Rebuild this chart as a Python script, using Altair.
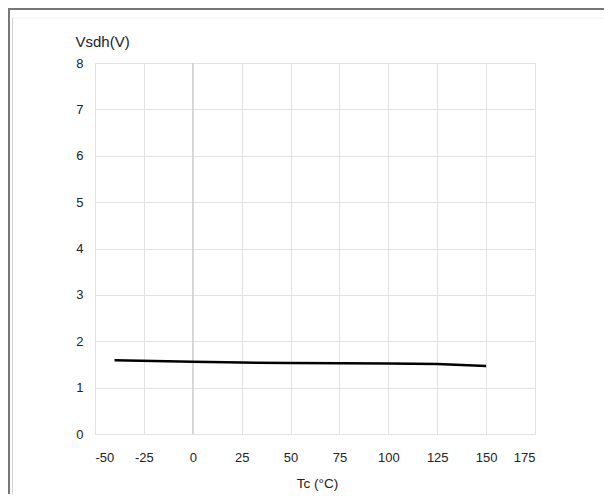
import altair as alt
import pandas as pd

# Data
temps = [-40, 0, 25, 50, 75, 100, 125, 150]
vsdh = [1.59, 1.56, 1.54, 1.53, 1.525, 1.52, 1.51, 1.465]
x_ticks = [-50, -25, 0, 25, 50, 75, 100, 125, 150, 175]
y_ticks = [0, 1, 2, 3, 4, 5, 6, 7, 8]

df = pd.DataFrame({"Tc": temps, "Vsdh": vsdh})
one = pd.DataFrame({"d": [0]})

FONT = "Liberation Sans"

x_scale = alt.Scale(domain=[-50, 175], nice=False, zero=False)
y_scale = alt.Scale(domain=[0, 8], nice=False)

line = alt.Chart(df).mark_line(color="black", strokeWidth=2.5).encode(
    x=alt.X("Tc:Q", scale=x_scale,
            axis=alt.Axis(values=x_ticks, title="Tc (°C)", grid=True, gridColor="#e2e2e2",
                          domain=False, ticks=False, tickSize=0, labelPadding=17,
                          labelExpr="'' + datum.value",
                          labelFontSize=13, labelFont=FONT, labelColor="#222",
                          titleFont=FONT, titleFontSize=13.5, titleFontWeight="normal",
                          titleColor="#222", titleBaseline="alphabetic",
                          titleX=222, titleY=53, titleAlign="center")),
    y=alt.Y("Vsdh:Q", scale=y_scale,
            axis=alt.Axis(values=y_ticks, title="Vsdh(V)", grid=True, gridColor="#e2e2e2",
                          domain=False, ticks=False, tickSize=0, labelPadding=12,
                          labelFontSize=13, labelFont=FONT, labelColor="#222",
                          titleFont=FONT, titleFontSize=15, titleFontWeight="normal",
                          titleColor="#222", titleAngle=0, titleAlign="left",
                          titleBaseline="alphabetic", titleX=-20, titleY=-17)),
)

zero_rule = alt.Chart(one).mark_rule(color="#c6c6c6", strokeWidth=1).encode(
    x=alt.datum(0, scale=x_scale)
)

# Page frame decorations
frame_top = alt.Chart(one).mark_rule(color="#777777", strokeWidth=2).encode(
    x=alt.value(-87), x2=alt.value(520), y=alt.value(-54))
frame_left = alt.Chart(one).mark_rule(color="#777777", strokeWidth=2).encode(
    x=alt.value(-86), y=alt.value(-55), y2=alt.value(440))
inner_top = alt.Chart(one).mark_rule(color="#eeeeee", strokeWidth=1).encode(
    x=alt.value(-83), x2=alt.value(520), y=alt.value(-45))
inner_left = alt.Chart(one).mark_rule(color="#d5d5d5", strokeWidth=1).encode(
    x=alt.value(-82.5), y=alt.value(-45), y2=alt.value(432.5))
inner_bottom = alt.Chart(one).mark_rule(color="#cccccc", strokeWidth=1.5).encode(
    x=alt.value(-83), x2=alt.value(520), y=alt.value(432.5))

chart = alt.layer(
    zero_rule, line, frame_top, frame_left, inner_top, inner_left, inner_bottom
).properties(
    width=440, height=371,
    autosize=alt.AutoSizeParams(type="none"),
    padding={"left": 87, "top": 55, "right": 69, "bottom": 60},
).configure_view(
    stroke="#9a9a9a", strokeWidth=1
).configure(background="white")

chart.save("out.html", embed_options={"renderer": "svg", "actions": False})
